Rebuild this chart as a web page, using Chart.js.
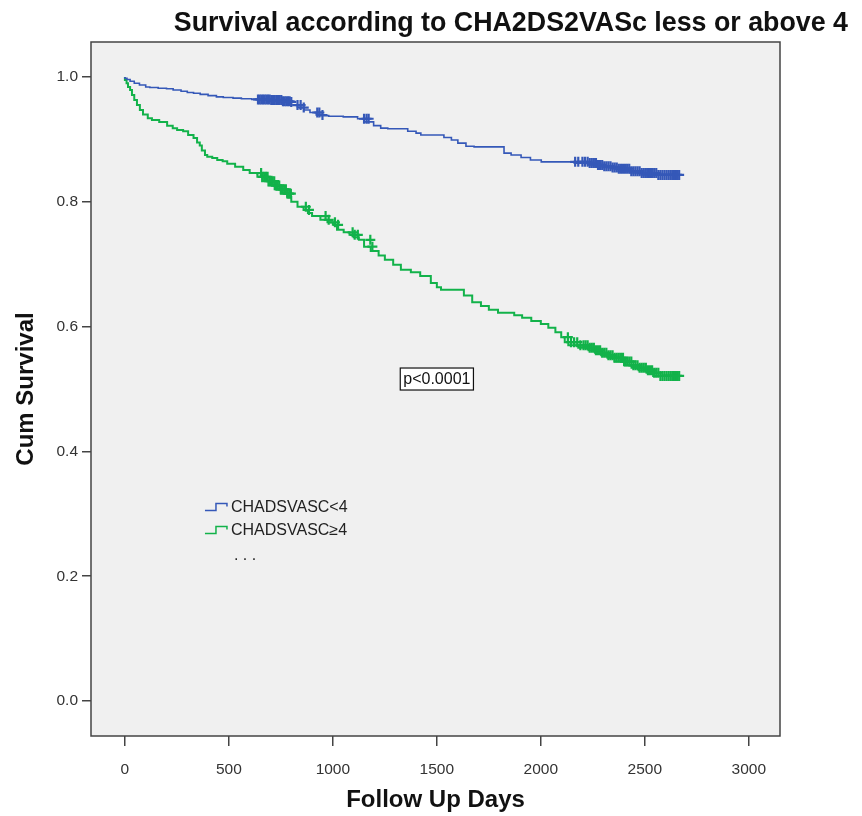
<!DOCTYPE html>
<html>
<head>
<meta charset="utf-8">
<title>Survival according to CHA2DS2VASc</title>
<script src="https://cdn.jsdelivr.net/npm/chart.js@4.4.1/dist/chart.umd.min.js"></script>
<style>
  html, body { margin: 0; padding: 0; background: #fff; }
  #wrap { width: 862px; height: 816px; }
</style>
</head>
<body>
<div id="wrap"><canvas id="km" width="862" height="816"></canvas></div>
<script>
// axis ticks
var xTicks = [0, 500, 1000, 1500, 2000, 2500, 3000];
var yTicks = [0, 0.2, 0.4, 0.6, 0.8, 1.0];

// CHADSVASC < 4 : event days and survival after each step
var lowDays = [0, 10, 25, 45, 70, 100, 120, 160, 200, 232, 270, 300, 330, 362, 400, 440, 473, 520, 560, 610,
               640, 700, 760, 800, 830, 860, 890, 920, 940, 980, 1050, 1119, 1150, 1196, 1230, 1264, 1360, 1400, 1423, 1534,
               1570, 1601, 1640, 1679, 1823, 1857, 1905, 1950, 2002, 2161, 2229, 2270, 2300, 2340, 2373, 2430, 2484, 2560, 2680];
var lowSurv = [1.0, 0.998, 0.996, 0.993, 0.990, 0.987, 0.984, 0.983, 0.982, 0.981, 0.979, 0.977, 0.975, 0.974, 0.972, 0.970, 0.968, 0.967, 0.966, 0.965,
               0.964, 0.963, 0.961, 0.960, 0.955, 0.951, 0.947, 0.943, 0.939, 0.938, 0.937, 0.936, 0.933, 0.928, 0.922, 0.918, 0.917, 0.913, 0.910, 0.907,
               0.903, 0.899, 0.894, 0.889, 0.888, 0.878, 0.875, 0.871, 0.867, 0.864, 0.862, 0.859, 0.857, 0.855, 0.853, 0.849, 0.846, 0.843, 0.843];

// CHADSVASC >= 4
var highDays = [0, 8, 15, 25, 34, 45, 58, 72, 87, 110, 130, 165, 203, 230, 251, 280, 304, 330, 347, 360,
                370, 385, 396, 420, 444, 470, 492, 530, 569, 600, 637, 660, 690, 720, 750, 780, 800, 830, 859, 880,
                900, 940, 974, 1000, 1020, 1052, 1080, 1100, 1125, 1150, 1182, 1220, 1250, 1290, 1327, 1375, 1420, 1471, 1500, 1520,
                1630, 1670, 1712, 1750, 1794, 1872, 1910, 1954, 2000, 2036, 2070, 2098, 2115, 2132, 2180, 2229, 2260, 2290, 2320, 2354,
                2400, 2436, 2470, 2508, 2540, 2570, 2680];
var highSurv = [1.0, 0.995, 0.990, 0.984, 0.979, 0.971, 0.963, 0.955, 0.947, 0.940, 0.934, 0.931, 0.928, 0.922, 0.918, 0.915, 0.913, 0.907, 0.902, 0.895,
                0.890, 0.882, 0.875, 0.872, 0.870, 0.867, 0.865, 0.861, 0.856, 0.851, 0.846, 0.840, 0.833, 0.826, 0.820, 0.813, 0.808, 0.800, 0.792, 0.787,
                0.782, 0.777, 0.771, 0.767, 0.763, 0.755, 0.751, 0.747, 0.743, 0.739, 0.728, 0.721, 0.714, 0.707, 0.699, 0.691, 0.687, 0.681, 0.670, 0.663,
                0.659, 0.650, 0.639, 0.633, 0.627, 0.622, 0.618, 0.614, 0.609, 0.604, 0.598, 0.591, 0.583, 0.575, 0.570, 0.566, 0.562, 0.558, 0.554, 0.550,
                0.544, 0.538, 0.534, 0.530, 0.526, 0.521, 0.521];

// censored cases (days)
var lowCensored = [640, 648, 656, 664, 672, 680, 688, 696, 704, 712, 720, 728, 736, 744, 752, 760, 768, 776, 784, 792, 800,
                   830, 845, 860, 925, 935, 950, 1150, 1162, 1172, 2165, 2180, 2200, 2212,
                   2225, 2235, 2245, 2255, 2265, 2275, 2285, 2295, 2305, 2315, 2325, 2335, 2345, 2355, 2365, 2375, 2385, 2395,
                   2405, 2415, 2425, 2435, 2445, 2455, 2465, 2475, 2485, 2495, 2505, 2515, 2525, 2535, 2545, 2555, 2565, 2575,
                   2585, 2595, 2605, 2615, 2625, 2635, 2645, 2655, 2665];
var highCensored = [655, 662, 670, 678, 686, 694, 702, 710, 718, 726, 734, 742, 750, 758, 766, 774, 782, 790, 798,
                    870, 885, 965, 980, 1010, 1025, 1095, 1105, 1120, 1180, 1190, 2130, 2145, 2160, 2175, 2190,
                    2205, 2215, 2225, 2235, 2245, 2255, 2265, 2275, 2285, 2295, 2305, 2315, 2325, 2335, 2345, 2355, 2365, 2375,
                    2385, 2395, 2405, 2415, 2425, 2435, 2445, 2455, 2465, 2475, 2485, 2495, 2505, 2515, 2525, 2535, 2545, 2555,
                    2565, 2575, 2585, 2595, 2605, 2615, 2625, 2635, 2645, 2655, 2665];

var seriesLabels = ['CHADSVASC<4', 'CHADSVASC\u22654'];
var seriesColors = ['#3558B8', '#12B24A'];
var chartTitle = 'Survival according to CHA2DS2VASc less or above 4';
var pValueText = 'p<0.0001';

var FONT = "'Liberation Sans', Arial, sans-serif";

function toPoints(days, surv) {
	return days.map(function(d, i) { return { x: d, y: surv[i] }; });
}

// value of the step curve at day t
function survAt(days, surv, t) {
	var s = surv[0];
	for (var i = 0; i < days.length; i++) {
		if (days[i] <= t) s = surv[i];
	}
	return s;
}

function censorPoints(cens, days, surv) {
	return cens.map(function(t) { return { x: t, y: survAt(days, surv, t) }; });
}

var decor = {
	id: 'decor',
	beforeDraw: function(chart) {
		var ctx = chart.ctx, a = chart.chartArea;
		ctx.save();
		ctx.fillStyle = '#F0F0F0';
		ctx.fillRect(a.left, a.top, a.right - a.left, a.bottom - a.top);
		ctx.restore();
	},
	afterDraw: function(chart) {
		var ctx = chart.ctx, a = chart.chartArea;
		var xs = chart.scales.x, ys = chart.scales.y;
		ctx.save();

		// frame
		ctx.strokeStyle = '#444';
		ctx.lineWidth = 1.5;
		ctx.strokeRect(a.left, a.top, a.right - a.left, a.bottom - a.top);

		// title
		ctx.fillStyle = '#111';
		ctx.font = 'bold 26.8px ' + FONT;
		ctx.textAlign = 'right';
		ctx.textBaseline = 'alphabetic';
		ctx.fillText(chartTitle, chart.width - 14, 31);

		// legend
		var lx = xs.getPixelForValue(385), ly = ys.getPixelForValue(0.31);
		ctx.font = '16px ' + FONT;
		ctx.textAlign = 'left';
		ctx.textBaseline = 'middle';
		for (var i = 0; i < seriesLabels.length; i++) {
			var y = ly + i * 23;
			ctx.strokeStyle = seriesColors[i];
			ctx.lineWidth = 1.5;
			ctx.beginPath();
			ctx.moveTo(lx, y + 3);
			ctx.lineTo(lx + 11, y + 3);
			ctx.lineTo(lx + 11, y - 4);
			ctx.lineTo(lx + 22, y - 4);
			ctx.lineTo(lx + 22, y - 1);
			ctx.stroke();
			ctx.fillStyle = '#222';
			ctx.fillText(seriesLabels[i], lx + 26, y);
		}
		ctx.fillText('. . .', lx + 29, ly + 48);

		// p value box
		var px = xs.getPixelForValue(1500), py = ys.getPixelForValue(0.516);
		ctx.font = '16px ' + FONT;
		var w = ctx.measureText(pValueText).width + 6;
		ctx.fillStyle = '#fff';
		ctx.fillRect(px - w / 2, py - 11, w, 22);
		ctx.strokeStyle = '#111';
		ctx.lineWidth = 1.2;
		ctx.strokeRect(px - w / 2, py - 11, w, 22);
		ctx.fillStyle = '#111';
		ctx.textAlign = 'center';
		ctx.fillText(pValueText, px, py + 1);

		ctx.restore();
	}
};

var lineStyle = function(i, pts) {
	return {
		label: seriesLabels[i],
		data: pts,
		showLine: true,
		stepped: 'after',
		borderColor: seriesColors[i],
		borderWidth: i === 0 ? 1.6 : 2,
		pointRadius: 0,
		fill: false
	};
};

var censorStyle = function(i, pts) {
	return {
		data: pts,
		showLine: false,
		pointStyle: 'cross',
		pointRadius: 5,
		pointBorderWidth: 2.2,
		pointBorderColor: seriesColors[i],
		pointBackgroundColor: seriesColors[i]
	};
};

var config = {
	type: 'scatter',
	data: {
		datasets: [
			lineStyle(0, toPoints(lowDays, lowSurv)),
			lineStyle(1, toPoints(highDays, highSurv)),
			censorStyle(0, censorPoints(lowCensored, lowDays, lowSurv)),
			censorStyle(1, censorPoints(highCensored, highDays, highSurv))
		]
	},
	options: {
		responsive: false,
		animation: false,
		layout: { padding: { top: 42, right: 82, left: 0, bottom: 0 } },
		plugins: {
			legend: { display: false },
			tooltip: { enabled: false },
			title: { display: false }
		},
		scales: {
			x: {
				type: 'linear',
				min: -163,
				max: 3150,
				afterBuildTicks: function(axis) { axis.ticks = xTicks.map(function(v) { return { value: v }; }); },
				afterFit: function(s) { s.height = 80; },
				ticks: { font: { family: FONT, size: 15.5 }, color: '#333', padding: 14, maxRotation: 0,
				         callback: function(v) { return String(v); } },
				grid: { drawOnChartArea: false, drawTicks: true, tickLength: 10, color: '#444', lineWidth: 1.5 },
				border: { display: false },
				title: { display: true, text: 'Follow Up Days', color: '#111',
				         font: { family: FONT, size: 24, weight: 'bold' }, padding: { top: 0, bottom: 1 } }
			},
			y: {
				type: 'linear',
				min: -0.056,
				max: 1.056,
				afterBuildTicks: function(axis) { axis.ticks = yTicks.map(function(v) { return { value: v }; }); },
				afterFit: function(s) { s.width = 91; },
				ticks: { font: { family: FONT, size: 15.5 }, color: '#333', padding: 4,
				         callback: function(v) { return v.toFixed(1); } },
				grid: { drawOnChartArea: false, drawTicks: true, tickLength: 9, color: '#444', lineWidth: 1.5 },
				border: { display: false },
				title: { display: true, text: 'Cum Survival', color: '#111',
				         font: { family: FONT, size: 24, weight: 'bold' }, padding: { top: 12, bottom: 0 } }
			}
		}
	},
	plugins: [decor]
};

var graph = new Chart(document.getElementById('km'), config);
</script>
</body>
</html>
